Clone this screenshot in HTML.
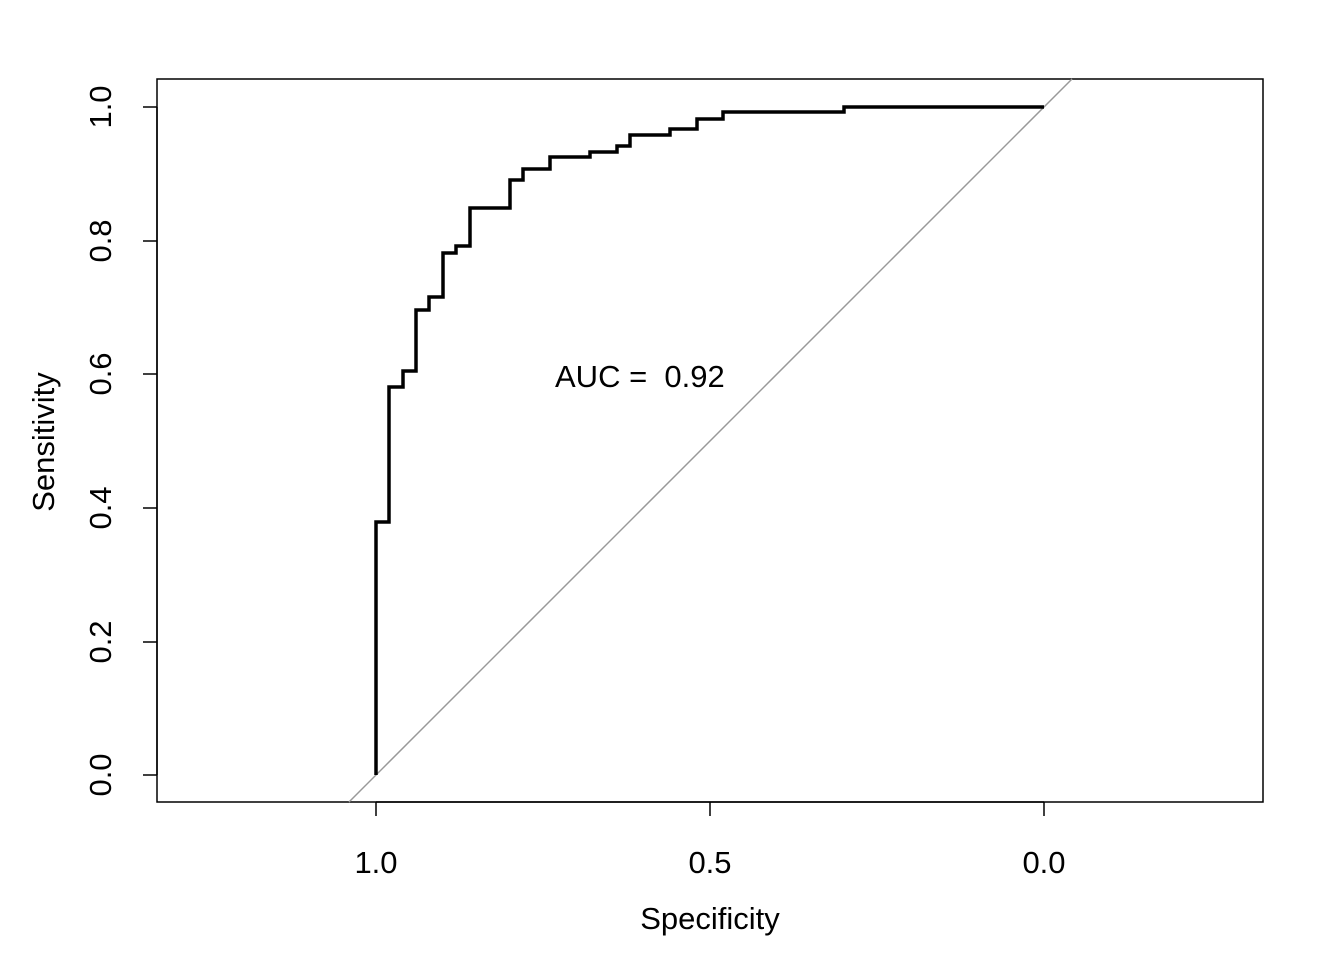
<!DOCTYPE html>
<html><head><style>body{margin:0;background:#fff}</style></head><body>
<svg width="1344" height="960" xmlns="http://www.w3.org/2000/svg" font-family="Liberation Sans, Arial, sans-serif" font-size="31">
<rect width="1344" height="960" fill="#fff"/>
<rect x="157" y="79" width="1106" height="723" fill="none" stroke="#000" stroke-width="1.5"/>
<line x1="349" y1="802" x2="1072" y2="79" stroke="#999" stroke-width="1.5"/>
<polyline fill="none" stroke="#000" stroke-width="3.5" points="376,775 376,522 389,522 389,387 403,387 403,371 416,371 416,310 429,310 429,297 443,297 443,253 456,253 456,246 470,246 470,208 510,208 510,180 523,180 523,169 550,169 550,157 590,157 590,152 617,152 617,146 630,146 630,135 670,135 670,129 697,129 697,119 723,119 723,112 844,112 844,107 1044,107"/>
<g stroke="#000" stroke-width="1.5">
<line x1="376" y1="802" x2="1044" y2="802"/>
<line x1="376" y1="802" x2="376" y2="816"/><line x1="710" y1="802" x2="710" y2="816"/><line x1="1044" y1="802" x2="1044" y2="816"/>
<line x1="157" y1="107" x2="157" y2="775"/>
<line x1="157" y1="107" x2="143" y2="107"/><line x1="157" y1="241" x2="143" y2="241"/><line x1="157" y1="374" x2="143" y2="374"/><line x1="157" y1="508" x2="143" y2="508"/><line x1="157" y1="642" x2="143" y2="642"/><line x1="157" y1="775" x2="143" y2="775"/>
</g>
<g text-anchor="middle">
<text x="376" y="873">1.0</text><text x="710" y="873">0.5</text><text x="1044" y="873">0.0</text>
<text x="710" y="929">Specificity</text>
<text transform="translate(111,775) rotate(-90)">0.0</text>
<text transform="translate(111,642) rotate(-90)">0.2</text>
<text transform="translate(111,508) rotate(-90)">0.4</text>
<text transform="translate(111,374) rotate(-90)">0.6</text>
<text transform="translate(111,241) rotate(-90)">0.8</text>
<text transform="translate(111,107) rotate(-90)">1.0</text>
<text transform="translate(54,442) rotate(-90)">Sensitivity</text>
</g>
<text x="555" y="387" xml:space="preserve">AUC =  0.92</text>
</svg>
</body></html>
